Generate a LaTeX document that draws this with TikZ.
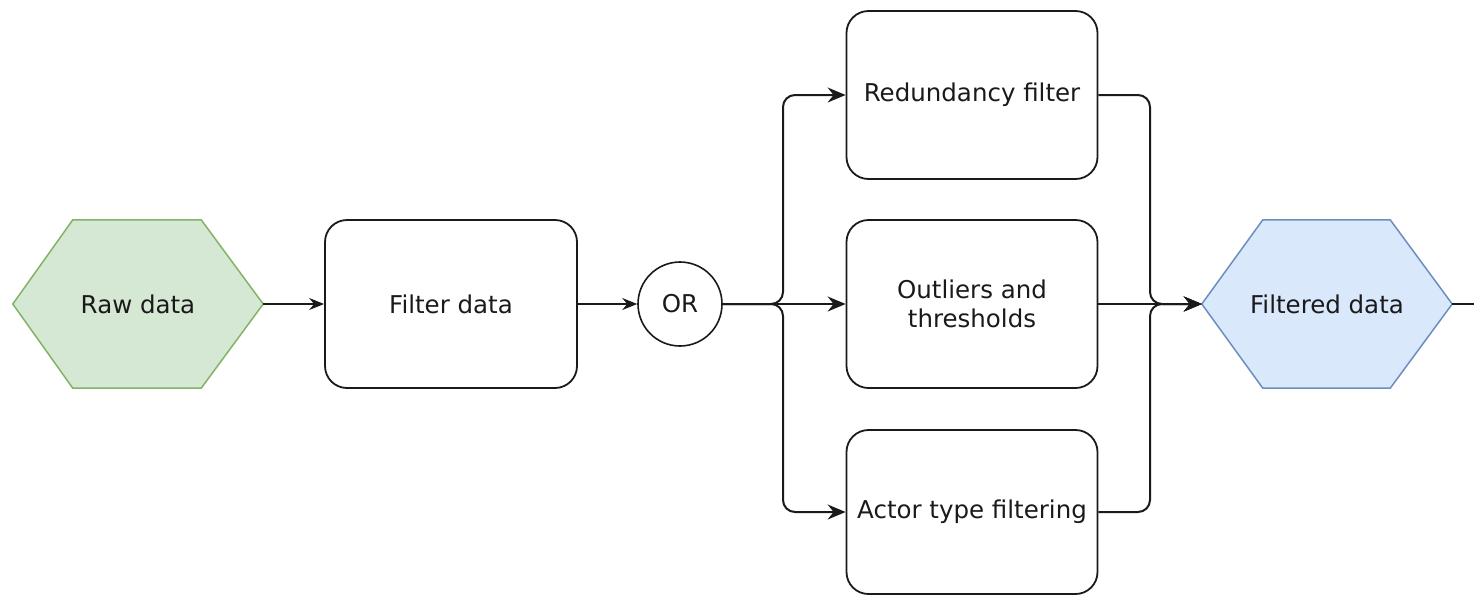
\documentclass[tikz,border=0pt]{standalone}
\usepackage{fontspec}
\setmainfont{DejaVu Sans}
\usetikzlibrary{arrows.meta,backgrounds}
\definecolor{rawfill}{HTML}{D5E8D4}
\definecolor{rawline}{HTML}{82B366}
\definecolor{outfill}{HTML}{DAE8FC}
\definecolor{outline}{HTML}{6C8EBF}
\definecolor{ink}{HTML}{1A1A1A}
\tikzset{
  lbl/.style={font=\fontsize{24.5}{29}\selectfont, text=ink, align=center},
  stepbox/.style={lbl, draw=ink, line width=1.8pt, rounded corners=22pt,
    minimum width=251pt, minimum height=168pt, inner sep=0pt},
  hexnode/.style={lbl, minimum width=250pt, minimum height=168pt, inner sep=0pt},
  gate/.style={lbl, draw=ink, line width=1.6pt, circle, minimum size=84pt, inner sep=0pt},
  thin conn/.style={draw=ink, line width=1.5pt, -{Stealth[length=15pt,width=12pt,inset=5pt]}},
  conn/.style={draw=ink, line width=2pt, rounded corners=12pt,
    -{Stealth[length=18pt,width=15pt,inset=6pt]}},
}
\begin{document}
\begin{tikzpicture}[x=1pt,y=-1pt]
\useasboundingbox (0,0) rectangle (1474,595);

% process nodes
\node[hexnode] (raw) at (138,304) {Raw data};
\node[stepbox, minimum width=252pt] (filt) at (451,304) {Filter data};
\node[gate] (or) at (680,304) {OR};
\node[stepbox] (red) at (972,95) {Redundancy filter};
\node[stepbox] (out) at (972,304) {Outliers and\\thresholds};
\node[stepbox, minimum height=164pt] (act) at (972,512) {Actor type filtering};
\node[hexnode] (done) at (1327,304) {Filtered data};

% hexagon outlines behind the data nodes
\begin{scope}[on background layer]
  \filldraw[fill=rawfill, draw=rawline, line width=1.5pt, line join=miter]
    (raw.west) -- ([xshift=60pt]raw.north west) -- ([xshift=-62pt]raw.north east)
    -- (raw.east) -- ([xshift=-62pt]raw.south east) -- ([xshift=60pt]raw.south west) -- cycle;
  \filldraw[fill=outfill, draw=outline, line width=1.5pt, line join=miter]
    (done.west) -- ([xshift=61pt]done.north west) -- ([xshift=-62pt]done.north east)
    -- (done.east) -- ([xshift=-62pt]done.south east) -- ([xshift=61pt]done.south west) -- cycle;
\end{scope}

% branch and merge points
\coordinate (split) at (783,304);
\coordinate (merge) at (1150,304);
\coordinate (exit) at (1474,304);

% connectors
\draw[thin conn] (raw.east) -- (filt.west);
\draw[thin conn] (filt.east) -- (or.west);
\draw[conn] (or.east) -- (split) |- (red.west);
\draw[conn] (or.east) -- (out.west);
\draw[conn] (or.east) -- (split) |- (act.west);
\draw[conn] (red.east) -| (merge) -- (done.west);
\draw[conn] (out.east) -- (done.west);
\draw[conn] (act.east) -| (merge) -- (done.west);
\draw[draw=ink, line width=1.5pt] (done.east) -- (exit);
\end{tikzpicture}
\end{document}
